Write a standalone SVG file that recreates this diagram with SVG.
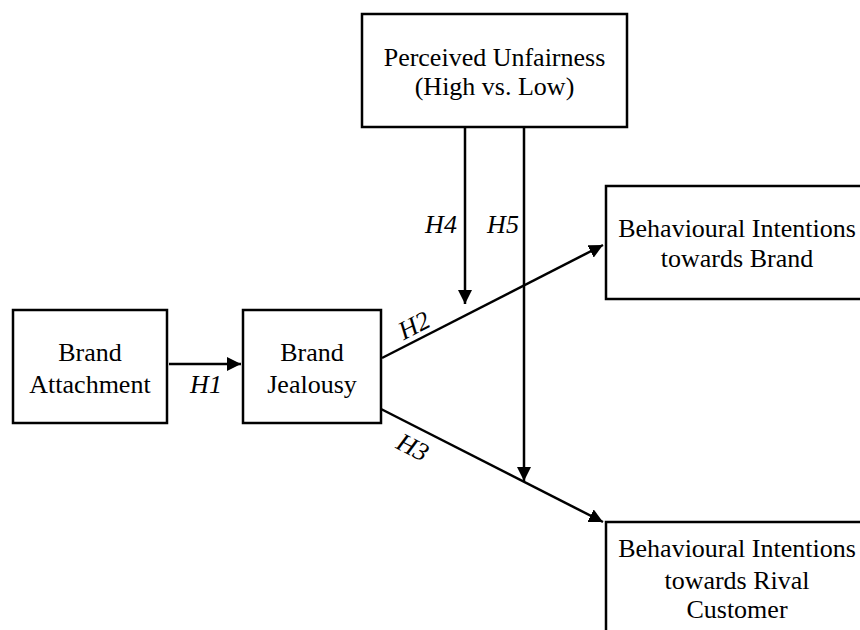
<svg xmlns="http://www.w3.org/2000/svg" width="860" height="630" viewBox="0 0 860 630">
<defs>
<style>
.box{fill:#fff;stroke:#000;stroke-width:2.5}
.t{font-family:"Liberation Serif","Times New Roman",serif;font-size:26px;fill:#000;text-anchor:middle}
.h{font-family:"Liberation Serif","Times New Roman",serif;font-size:26px;font-style:italic;fill:#000;text-anchor:middle}
.ln{stroke:#000;stroke-width:2.5;fill:none}
</style>
<marker id="ahv" viewBox="0 0 14 14" refX="14" refY="7" markerWidth="14" markerHeight="14" markerUnits="userSpaceOnUse" orient="auto">
<path d="M0,0 L14,7 L0,14 Z" fill="#000"/>
</marker>
</defs>
<rect width="860" height="630" fill="#fff"/>
<g id="unfairness">
<rect class="box" x="362" y="14" width="265" height="113"/>
<text class="t" x="494.5" y="66">Perceived Unfairness</text>
<text class="t" x="494.5" y="95">(High vs. Low)</text>
</g>
<g id="attachment">
<rect class="box" x="13" y="310" width="154" height="113"/>
<text class="t" x="90" y="361">Brand</text>
<text class="t" x="90" y="393">Attachment</text>
</g>
<g id="jealousy">
<rect class="box" x="243" y="310" width="138" height="113"/>
<text class="t" x="312" y="361">Brand</text>
<text class="t" x="312" y="393">Jealousy</text>
</g>
<g id="bi-brand">
<rect class="box" x="606" y="186" width="270" height="113"/>
<text class="t" x="737" y="237">Behavioural Intentions</text>
<text class="t" x="737" y="267">towards Brand</text>
</g>
<g id="bi-rival">
<rect class="box" x="606" y="522" width="270" height="130"/>
<text class="t" x="737" y="557">Behavioural Intentions</text>
<text class="t" x="737" y="589">towards Rival</text>
<text class="t" x="737" y="618">Customer</text>
</g>
<g id="connectors">
<line class="ln" x1="169" y1="364" x2="241" y2="364" marker-end="url(#ahv)"/>
<line class="ln" x1="382" y1="358" x2="603" y2="245" marker-end="url(#ahv)"/>
<line class="ln" x1="381" y1="409" x2="603" y2="522" marker-end="url(#ahv)"/>
<line class="ln" x1="465" y1="127" x2="465" y2="304" marker-end="url(#ahv)"/>
<line class="ln" x1="524" y1="127" x2="524" y2="481" marker-end="url(#ahv)"/>
<text class="h" x="206" y="393">H1</text>
<text class="h" x="441" y="233">H4</text>
<text class="h" x="503" y="233">H5</text>
<text class="h" x="0" y="0" transform="translate(418,333) rotate(-27)">H2</text>
<text class="h" x="0" y="0" transform="translate(409,455) rotate(27)">H3</text>
</g>
</svg>
